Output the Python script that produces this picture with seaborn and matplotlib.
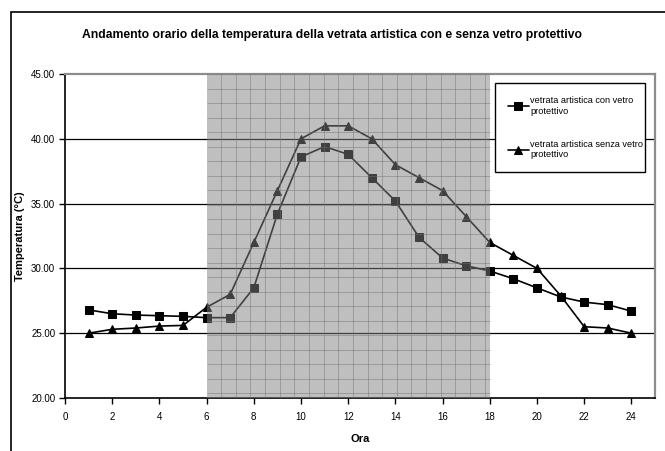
import numpy as np
import pandas as pd
import matplotlib
matplotlib.use("Agg")
import matplotlib.pyplot as plt
import seaborn as sns
from matplotlib.patches import Rectangle

# ---- data ----
ore = list(range(1, 25))
con_vetro = [26.8, 26.5, 26.4, 26.35, 26.3, 26.2, 26.2, 28.5, 34.2, 38.6, 39.4, 38.8,
             37.0, 35.2, 32.4, 30.8, 30.2, 29.8, 29.2, 28.5, 27.8, 27.4, 27.2, 26.7]
senza_vetro = [25.0, 25.3, 25.4, 25.55, 25.6, 27.0, 28.0, 32.0, 36.0, 40.0, 41.0, 41.0,
               40.0, 38.0, 37.0, 36.0, 34.0, 32.0, 31.0, 30.0, 27.9, 25.5, 25.4, 25.0]
serie = ["vetrata artistica con vetro\nprotettivo",
         "vetrata artistica senza vetro\nprotettivo"]
y_ticks = [20, 25, 30, 35, 40, 45]
x_ticks = list(range(0, 25, 2))
ore_diurne = (6, 18)
titolo = "Andamento orario della temperatura della vetrata artistica con e senza vetro protettivo"

df = pd.DataFrame({
    "Ora": ore * 2,
    "Temperatura": con_vetro + senza_vetro,
    "serie": [serie[0]] * len(ore) + [serie[1]] * len(ore),
})

sns.set_theme(style="ticks")
plt.rcParams["font.family"] = ["Liberation Sans", "DejaVu Sans"]
plt.rcParams["text.color"] = "black"
plt.rcParams["axes.labelcolor"] = "black"
plt.rcParams["xtick.color"] = "black"
plt.rcParams["ytick.color"] = "black"

fig = plt.figure(figsize=(6.65, 4.51), dpi=100)
ax = fig.add_axes([65 / 665, 1 - 398 / 451, 590 / 665, 324 / 451])

sns.lineplot(data=df, x="Ora", y="Temperatura", hue="serie", style="serie",
             hue_order=serie, style_order=serie,
             palette=["black", "black"], markers=["s", "^"], dashes=False,
             markersize=5.8, markeredgecolor="black", linewidth=1.2, ax=ax, zorder=3)

ax.set_xlim(0, 25)
ax.set_ylim(20, 45)
ax.set_xticks(x_ticks)
ax.set_yticks(y_ticks)
ax.set_yticklabels([f"{v:.2f}" for v in y_ticks])
ax.tick_params(axis="both", labelsize=7, direction="out", length=4, width=1,
               color="black", labelcolor="black", pad=3)
ax.tick_params(axis="x", pad=6)

# major gridlines
for v in y_ticks[1:-1]:
    ax.axhline(v, color="black", lw=0.9, zorder=1)

for s in ["left", "bottom"]:
    ax.spines[s].set_color("black")
    ax.spines[s].set_linewidth(1.2)
for s in ["top", "right"]:
    ax.spines[s].set_visible(True)
    ax.spines[s].set_color("#8c8c8c")
    ax.spines[s].set_linewidth(1.6)

# daytime shaded overlay with fine grid
ax.axvspan(ore_diurne[0], ore_diurne[1], color="#808080", alpha=0.5, lw=0, zorder=5)
vx = np.arange(ore_diurne[0] + 0.62, ore_diurne[1], 0.62)
hy = np.arange(45 - 1.12, 20, -1.12)
ax.vlines(vx, 20, 45, color="#707070", lw=0.7, alpha=0.45, zorder=6)
ax.hlines(hy, ore_diurne[0], ore_diurne[1], color="#707070", lw=0.7, alpha=0.45, zorder=6)

ax.set_xlabel("Ora", fontsize=8, fontweight="bold", labelpad=9)
ax.set_ylabel("Temperatura (°C)", fontsize=8, fontweight="bold")
ax.yaxis.set_label_coords(-0.067, 0.5)

handles, labels = ax.get_legend_handles_labels()
leg = ax.legend(handles, labels, loc="upper left", bbox_to_anchor=(0.729, 0.972, 0.254, 0.0),
                mode="expand", fontsize=6.6, frameon=True, fancybox=False,
                edgecolor="black", framealpha=1, borderpad=1.45, labelspacing=2.6,
                handlelength=2.2, handletextpad=0.2, borderaxespad=0)
leg.get_frame().set_linewidth(1.0)
leg.set_zorder(10)

fig.text(0.5, 1 - 35 / 451, titolo, ha="center", va="center", fontsize=8.7,
         fontweight="bold", color="black")

# outer chart frame (cropped at right and bottom)
frame = Rectangle((10.7 / 665, -0.5), 2.0, 0.5 + (1 - 11.7 / 451), transform=fig.transFigure,
                  fill=False, edgecolor="black", lw=1.2, clip_on=False)
fig.patches.append(frame)

fig.savefig("out.png", dpi=100)
